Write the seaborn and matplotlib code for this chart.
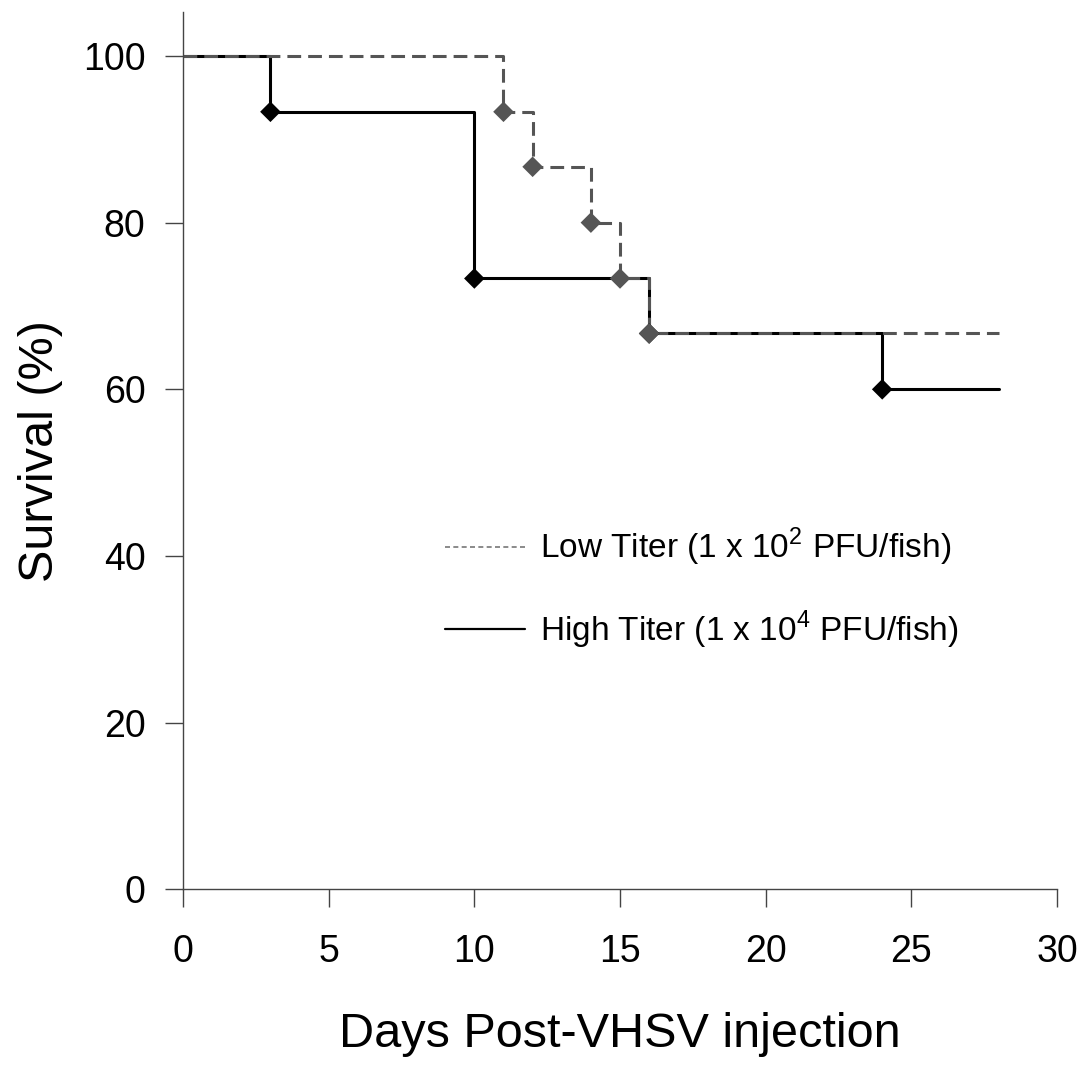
import matplotlib
matplotlib.use("Agg")
import matplotlib.pyplot as plt
from matplotlib.lines import Line2D
import pandas as pd
import seaborn as sns

# step curves (day, % survival), last point just carries the line to day 28
low_days = [0, 11, 12, 14, 15, 16, 28]
low_surv = [100, 93.3, 86.7, 80, 73.3, 66.7, 66.7]
high_days = [0, 3, 10, 16, 24, 28]
high_surv = [100, 93.3, 73.3, 66.7, 60, 60]

low_label = "Low Titer (1 x 10$^{2}$ PFU/fish)"
high_label = "High Titer (1 x 10$^{4}$ PFU/fish)"

sns.set_style("ticks")
plt.rcParams["font.family"] = ["Liberation Sans", "DejaVu Sans"]
plt.rcParams["mathtext.fontset"] = "custom"
plt.rcParams["mathtext.rm"] = "Liberation Sans"
plt.rcParams["text.color"] = "black"
plt.rcParams["axes.labelcolor"] = "black"

low = pd.DataFrame({"day": low_days, "surv": low_surv})
high = pd.DataFrame({"day": high_days, "surv": high_surv})

fig, ax = plt.subplots(figsize=(10.83, 10.69), dpi=100)
fig.subplots_adjust(left=0.169, right=0.976, bottom=0.168, top=0.989)

sns.lineplot(data=high, x="day", y="surv", ax=ax, color="black", lw=2.2,
             drawstyle="steps-post", estimator=None, sort=False)
sns.scatterplot(x=high_days[1:-1], y=high_surv[1:-1], ax=ax, color="black",
                marker="D", s=110, edgecolor="none", zorder=3)
sns.lineplot(data=low, x="day", y="surv", ax=ax, color="#555555", lw=2.2,
             drawstyle="steps-post", estimator=None, sort=False, dashes=False,
             linestyle=(0, (4.5, 2.3)))
sns.scatterplot(x=low_days[1:-1], y=low_surv[1:-1], ax=ax, color="#555555",
                marker="D", s=110, edgecolor="none", zorder=4)

ax.set_xlim(0, 30)
ax.set_ylim(0, 105.3)
ax.set_xticks(range(0, 31, 5))
ax.set_yticks(range(0, 101, 20))
ax.tick_params(labelsize=27, length=13, width=1, color="#444444",
               labelcolor="black", pad=14)
ax.tick_params(axis="x", pad=19)
for s in ["left", "bottom"]:
    ax.spines[s].set_color("#444444")
    ax.spines[s].set_linewidth(1)
sns.despine(ax=ax)
ax.set_xlabel("Days Post-VHSV injection", fontsize=35, labelpad=30)
ax.set_ylabel("Survival (%)", fontsize=35, labelpad=14)

handles = [Line2D([], [], color="#777777", lw=1.2, linestyle=(0, (3, 2))),
           Line2D([], [], color="black", lw=1.6)]
ax.legend(handles, [low_label, high_label], frameon=False, fontsize=24,
          loc="center left", bbox_to_anchor=(0.30, 0.343), borderaxespad=0,
          borderpad=0, handlelength=2.4, handletextpad=0.45, labelspacing=1.2)

fig.savefig("out.png", dpi=100)
